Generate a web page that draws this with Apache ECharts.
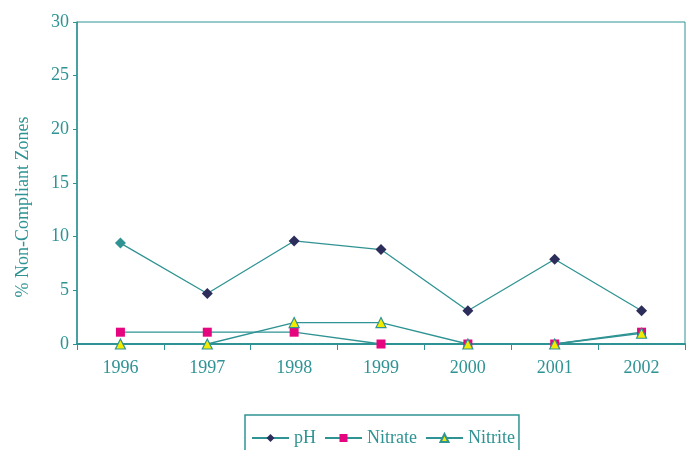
<!DOCTYPE html>
<html>
<head>
<meta charset="utf-8">
<script src="https://cdn.jsdelivr.net/npm/echarts@6/dist/echarts.min.js"></script>
<style>
  html, body { margin: 0; padding: 0; background: #fff; }
  #main { width: 687px; height: 450px; }
</style>
</head>
<body>
<div id="main"></div>
<script>
// chart data
const years = ['1996', '1997', '1998', '1999', '2000', '2001', '2002'];
const phValues = [9.4, 4.7, 9.6, 8.8, 3.1, 7.9, 3.1];
const nitrateValues = [1.1, 1.1, 1.1, 0, 0, 0, 1.1];
const nitriteValues = [0, 0, 2, 2, 0, 0, 1];
const yTicks = [0, 5, 10, 15, 20, 25, 30];

const teal = '#2f9393';
const font = 'Liberation Serif';

let chart = echarts.init(document.getElementById('main'));

// first pH point is drawn in teal in the original
let phData = phValues.map((v, i) => i === 0
  ? { value: v, itemStyle: { color: teal } }
  : v);

let option = {
  animation: false,
  grid: {
    left: 77, right: 2, top: 22, bottom: 106,
    show: true, borderColor: teal, borderWidth: 1
  },
  xAxis: {
    type: 'category',
    data: years,
    boundaryGap: true,
    axisLine: { lineStyle: { color: teal, width: 2 } },
    axisTick: { show: true, length: 6, lineStyle: { color: teal } },
    axisLabel: { color: teal, fontFamily: font, fontSize: 18, margin: 15 }
  },
  yAxis: {
    type: 'value',
    min: yTicks[0],
    max: yTicks[yTicks.length - 1],
    interval: 5,
    name: '% Non-Compliant Zones',
    nameLocation: 'middle',
    nameGap: 45,
    nameTextStyle: { color: teal, fontFamily: font, fontSize: 18, padding: [0, 48, 0, 0] },
    axisLine: { show: true, lineStyle: { color: teal, width: 1.5 } },
    axisTick: { show: true, length: 4, lineStyle: { color: teal } },
    axisLabel: { color: teal, fontFamily: font, fontSize: 18, margin: 8 },
    splitLine: { show: false }
  },
  legend: {
    left: 245,
    top: 415,
    padding: [14, 4, 20, 6],
    borderColor: teal,
    borderWidth: 1.5,
    itemGap: 8,
    itemWidth: 37,
    itemHeight: 10,
    textStyle: { color: teal, fontFamily: font, fontSize: 18 },
    data: ['pH', 'Nitrate', 'Nitrite']
  },
  series: [
    {
      name: 'pH',
      type: 'line',
      data: phData,
      symbol: 'diamond',
      symbolSize: 11,
      itemStyle: { color: '#2d2d5c' },
      lineStyle: { color: teal, width: 1.3 }
    },
    {
      name: 'Nitrate',
      type: 'line',
      data: nitrateValues,
      symbol: 'rect',
      symbolSize: 9,
      itemStyle: { color: '#e5057f' },
      lineStyle: { color: teal, width: 1.3 }
    },
    {
      name: 'Nitrite',
      type: 'line',
      data: nitriteValues,
      symbol: 'triangle',
      symbolSize: 10,
      itemStyle: { color: '#f2ea00', borderColor: teal, borderWidth: 1.2 },
      lineStyle: { color: teal, width: 1.3 }
    }
  ]
};

option && chart.setOption(option);
</script>
</body>
</html>
